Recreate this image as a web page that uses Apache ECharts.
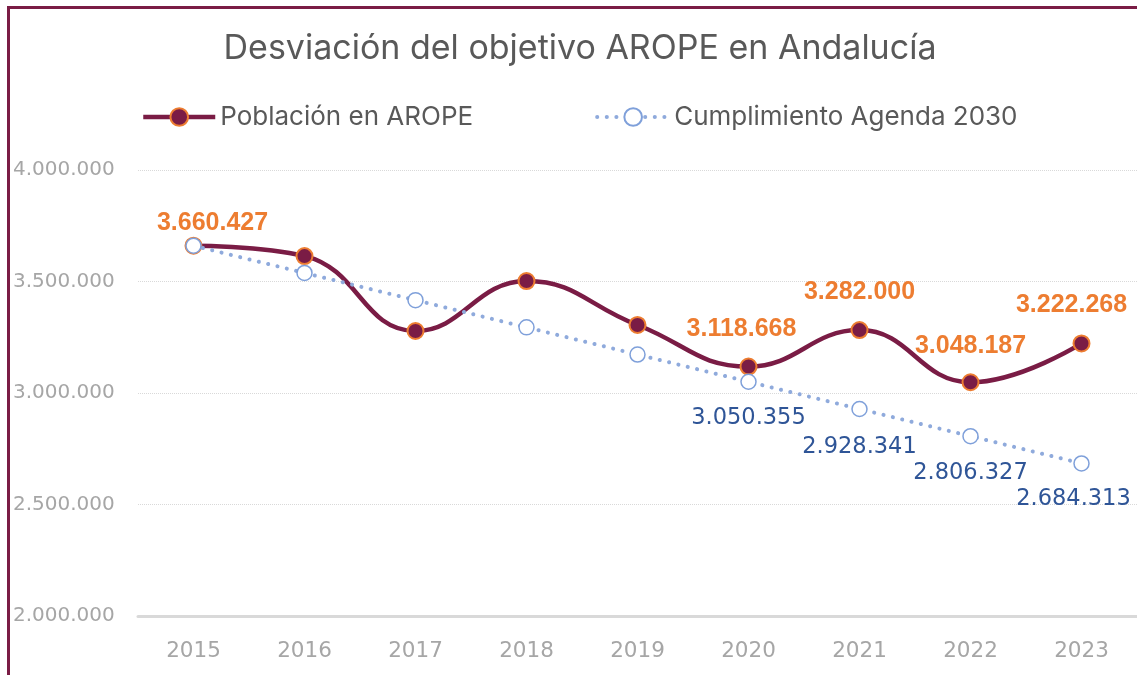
<!DOCTYPE html>
<html>
<head>
<meta charset="utf-8">
<script src="https://cdn.jsdelivr.net/npm/echarts@6/dist/echarts.min.js"></script>
<style>
  html, body { margin: 0; padding: 0; background: #fff; }
  #chart { width: 1137px; height: 675px; }
</style>
</head>
<body>
<div id="chart"></div>
<script>
  // datos
  const years = ['2015', '2016', '2017', '2018', '2019', '2020', '2021', '2022', '2023'];
  const poblacionArope = [3660427, 3614000, 3278000, 3502000, 3305000, 3118668, 3282000, 3048187, 3222268];
  const agenda2030 = [3660427, 3538413, 3416399, 3294385, 3172371, 3050355, 2928341, 2806327, 2684313];
  const yTicks = [2000000, 2500000, 3000000, 3500000, 4000000];

  // puntos con etiqueta (indice -> desplazamiento)
  const aropeLabels = { 0: [19, 4], 5: [-7, -11], 6: [0, -12], 7: [0, -10], 8: [-10, -12] };
  const agendaLabels = { 5: [0, 12], 6: [0, 13], 7: [0, 12], 8: [-8, 11] };

  function fmt(v) {
    return String(Math.round(v)).replace(/\B(?=(\d{3})+(?!\d))/g, '.');
  }

  let chart = echarts.init(document.getElementById('chart'));

  let option = {
    animation: false,
    title: {
      text: 'Desviación del objetivo AROPE en Andalucía',
      left: 575,
      textAlign: 'center',
      top: 27,
      textStyle: { fontFamily: 'Inter', fontWeight: 'normal', fontSize: 34, color: '#595959' }
    },
    legend: {
      left: 136,
      top: 99,
      itemWidth: 72,
      itemHeight: 22,
      itemGap: 122,
      lineStyle: { width: 'inherit' },
      textStyle: { fontFamily: 'Inter', fontSize: 26, color: '#595959' },
      data: ['Población en AROPE', 'Cumplimiento Agenda 2030']
    },
    graphic: [{
      type: 'rect',
      shape: { x: 8.5, y: 7.5, width: 1200, height: 700 },
      style: { fill: 'none', stroke: '#7A1C45', lineWidth: 3 },
      silent: true
    }],
    grid: { left: 138, top: 170, width: 1005, height: 446 },
    xAxis: {
      type: 'category',
      data: years,
      axisLine: { lineStyle: { color: '#D9D9D9', width: 3 } },
      axisTick: { show: false },
      axisLabel: { margin: 24, fontFamily: 'DejaVu Sans', fontSize: 21.5, color: '#A6A6A6' }
    },
    yAxis: {
      type: 'value',
      min: yTicks[0],
      max: yTicks[yTicks.length - 1],
      interval: yTicks[1] - yTicks[0],
      axisLine: { show: false },
      axisTick: { show: false },
      axisLabel: {
        align: 'left', margin: 125, fontFamily: 'DejaVu Sans', fontSize: 20, color: '#A6A6A6',
        formatter: fmt
      },
      splitLine: { lineStyle: { color: '#D9D9D9', type: 'dotted', width: 1 } }
    },
    series: [
      {
        name: 'Población en AROPE',
        type: 'line',
        smooth: 0.45,
        symbol: 'circle',
        symbolSize: 16,
        lineStyle: { color: '#7A1C45', width: 4.5 },
        itemStyle: { color: '#7A1C45', borderColor: '#ED7D31', borderWidth: 2 },
        data: poblacionArope.map((v, i) => ({
          value: v,
          label: aropeLabels[i] ? {
            show: true, position: 'top', offset: aropeLabels[i],
            formatter: p => fmt(p.value),
            fontFamily: 'Liberation Sans', fontWeight: 'bold', fontSize: 25, color: '#ED7D31'
          } : { show: false }
        })),
        z: 2
      },
      {
        name: 'Cumplimiento Agenda 2030',
        type: 'line',
        symbol: 'circle',
        symbolSize: 15,
        lineStyle: { color: '#8FAADC', width: 4, type: [0.1, 9.5], cap: 'round' },
        itemStyle: { color: '#FFFFFF', borderColor: '#7FA0DA', borderWidth: 1.5 },
        data: agenda2030.map((v, i) => ({
          value: v,
          label: agendaLabels[i] ? {
            show: true, position: 'bottom', offset: agendaLabels[i],
            formatter: p => fmt(p.value),
            fontFamily: 'DejaVu Sans', fontSize: 22.5, color: '#2F5597'
          } : { show: false }
        })),
        z: 3
      }
    ]
  };

  chart.setOption(option);
</script>
</body>
</html>
